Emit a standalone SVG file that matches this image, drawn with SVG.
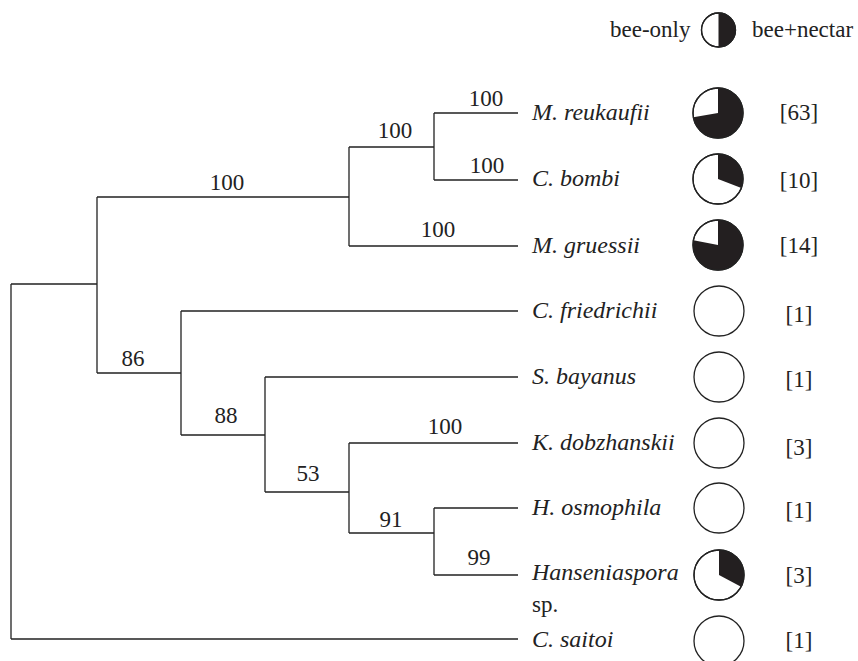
<svg xmlns="http://www.w3.org/2000/svg" width="858" height="661" viewBox="0 0 858 661" font-family="'Liberation Serif', 'DejaVu Serif', serif">
<style>
.br{stroke:#222;stroke-width:1.3;fill:none}
text{font-family:'Liberation Serif', 'DejaVu Serif', serif;fill:#222}
.num{font-size:23px;text-anchor:middle}
.sp{font-size:24px;font-style:italic}
.cnt{font-size:23px;text-anchor:middle}
.leg{font-size:23px}
.pie{fill:#fff;stroke:#222;stroke-width:1.3}
.blk{fill:#231f20}
.rim{fill:none;stroke:#222;stroke-width:1.3}
</style>
<rect width="858" height="661" fill="#fff"/>
<g id="legend">
<text class="leg" x="610" y="37">bee-only</text>
<circle class="pie" cx="718.5" cy="30" r="17"/>
<path class="blk" d="M718.5,13 A17,17 0 0 1 718.5,47 Z"/>
<circle class="rim" cx="718.5" cy="30" r="17"/>
<text class="leg" x="752" y="37">bee+nectar</text>
</g>
<g id="connectors">
<path class="br" d="M11,284 V639 M11,284 H97 M97,197 V373 M97,197 H349 M349,147 V246 M349,147 H434 M434,113 V180 M434,113 H518 M434,180 H518 M349,246 H518 M97,373 H181 M181,311 V435 M181,311 H518 M181,435 H265 M265,377 V492 M265,377 H518 M265,492 H349 M349,443 V533 M349,443 H518 M349,533 H434 M434,508 V575 M434,508 H518 M434,575 H518 M11,639 H518"/>
<text class="num" x="227" y="190">100</text>
<text class="num" x="395" y="138">100</text>
<text class="num" x="486" y="106">100</text>
<text class="num" x="487" y="173">100</text>
<text class="num" x="438" y="237">100</text>
<text class="num" x="133" y="366">86</text>
<text class="num" x="226" y="423">88</text>
<text class="num" x="308" y="481">53</text>
<text class="num" x="445" y="434">100</text>
<text class="num" x="391" y="527">91</text>
<text class="num" x="479" y="565">99</text>
</g>
<g id="n-mreukaufii">
<text class="sp" x="532" y="120">M. reukaufii</text>
<circle class="pie" cx="718" cy="113" r="25"/>
<path class="blk" d="M718,113 L718,88 A25,25 0 1 1 693.38,117.34 Z"/>
<circle class="rim" cx="718" cy="113" r="25"/>
<text class="cnt" x="799" y="120">[63]</text>
</g>
<g id="n-cbombi">
<text class="sp" x="532" y="186">C. bombi</text>
<circle class="pie" cx="718" cy="179" r="25"/>
<path class="blk" d="M718,179 L718,154 A25,25 0 0 1 741.34,187.96 Z"/>
<circle class="rim" cx="718" cy="179" r="25"/>
<text class="cnt" x="799" y="188">[10]</text>
</g>
<g id="n-mgruessii">
<text class="sp" x="532" y="253">M. gruessii</text>
<circle class="pie" cx="718" cy="245" r="25"/>
<path class="blk" d="M718,245 L718,220 A25,25 0 1 1 693.46,240.23 Z"/>
<circle class="rim" cx="718" cy="245" r="25"/>
<text class="cnt" x="799" y="253">[14]</text>
</g>
<g id="n-cfriedrichii">
<text class="sp" x="532" y="318">C. friedrichii</text>
<circle class="pie" cx="719" cy="311" r="25"/>
<text class="cnt" x="799" y="322">[1]</text>
</g>
<g id="n-sbayanus">
<text class="sp" x="532" y="384">S. bayanus</text>
<circle class="pie" cx="719" cy="377" r="25"/>
<text class="cnt" x="799" y="387">[1]</text>
</g>
<g id="n-kdobzhanskii">
<text class="sp" x="532" y="450">K. dobzhanskii</text>
<circle class="pie" cx="719" cy="443" r="25"/>
<text class="cnt" x="799" y="455">[3]</text>
</g>
<g id="n-hosmophila">
<text class="sp" x="532" y="515">H. osmophila</text>
<circle class="pie" cx="719" cy="508" r="25"/>
<text class="cnt" x="799" y="518">[1]</text>
</g>
<g id="n-hanseniaspora">
<text class="sp" x="532" y="580">Hanseniaspora</text>
<text class="leg" x="532" y="612">sp.</text>
<circle class="pie" cx="719" cy="575" r="25"/>
<path class="blk" d="M719,575 L719,550 A25,25 0 0 1 741.07,586.74 Z"/>
<circle class="rim" cx="719" cy="575" r="25"/>
<text class="cnt" x="799" y="583">[3]</text>
</g>
<g id="n-csaitoi">
<text class="sp" x="532" y="647">C. saitoi</text>
<circle class="pie" cx="719" cy="641" r="25"/>
<text class="cnt" x="799" y="648">[1]</text>
</g>
</svg>
